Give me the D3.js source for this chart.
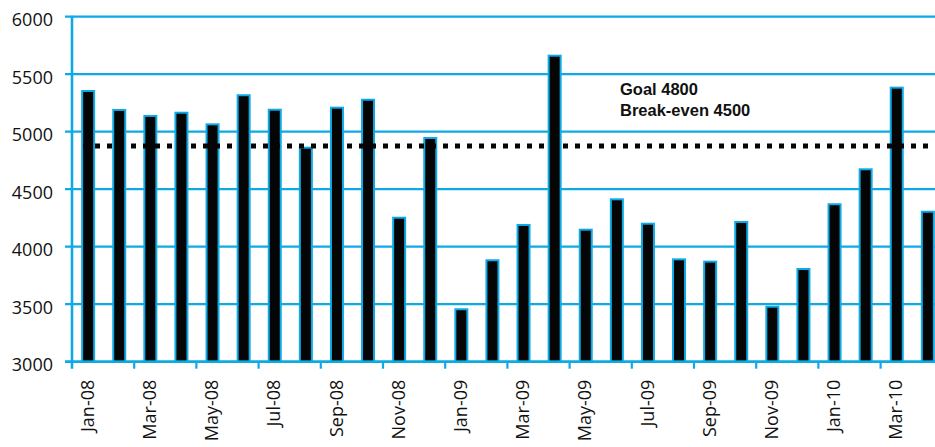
<!DOCTYPE html>
<html>
<head>
<meta charset="utf-8">
<script src="https://cdn.jsdelivr.net/npm/d3@7"></script>
<style>
  html, body { margin: 0; padding: 0; background: #fff; }
  svg { display: block; }
</style>
</head>
<body>
<svg id="chart" width="935" height="447"></svg>
<script>
// Monthly totals, Jan-08 .. Apr-10
const months = [
  "Jan-08","Feb-08","Mar-08","Apr-08","May-08","Jun-08","Jul-08","Aug-08",
  "Sep-08","Oct-08","Nov-08","Dec-08","Jan-09","Feb-09","Mar-09","Apr-09",
  "May-09","Jun-09","Jul-09","Aug-09","Sep-09","Oct-09","Nov-09","Dec-09",
  "Jan-10","Feb-10","Mar-10","Apr-10"
];
const values = [
  5354, 5189, 5137, 5165, 5064, 5317, 5191, 4861,
  5209, 5278, 4252, 4945, 3456, 3882, 4189, 5661,
  4148, 4412, 4200, 3890, 3870, 4215, 3478, 3806,
  4369, 4673, 5383, 4304
];
const yTicks = [3000, 3500, 4000, 4500, 5000, 5500, 6000];
const targetLine = 4875;
const notes = ["Goal 4800", "Break-even 4500"];

const W = 935, H = 447;
const cyan = "#0eaae6";
const plotLeft = 72, plotTop = 16.7, plotBottom = 361.7;
const step = 31.1;

const svg = d3.select("#chart");

const x = d3.scaleBand()
  .domain(months)
  .range([plotLeft, plotLeft + months.length * step])
  .paddingInner(0.614)
  .paddingOuter(0.307);

const y = d3.scaleLinear()
  .domain([3000, 6000])
  .range([plotBottom, plotTop]);

// horizontal gridlines (including the left tick stubs)
svg.append("g")
  .selectAll("line")
  .data(yTicks)
  .join("line")
  .attr("x1", plotLeft - 7)
  .attr("x2", W)
  .attr("y1", d => y(d))
  .attr("y2", d => y(d))
  .attr("stroke", cyan)
  .attr("stroke-width", 2.2);

// y axis labels
const yAxis = svg.append("g")
  .attr("transform", `translate(${plotLeft},0)`)
  .call(d3.axisLeft(y).tickValues(yTicks).tickFormat(d3.format("d")).tickSize(7).tickPadding(12));
yAxis.select(".domain").remove();
yAxis.selectAll(".tick line").remove();
yAxis.selectAll("text")
  .attr("dy", "0.5em")
  .attr("fill", "#111")
  .style("font-family", "'Open Sans', 'Noto Sans', sans-serif")
  .style("font-size", "18px");

// vertical axis line, extending down to form the first tick
svg.append("line")
  .attr("x1", plotLeft).attr("x2", plotLeft)
  .attr("y1", y(6000) - 1).attr("y2", plotBottom + 7)
  .attr("stroke", cyan).attr("stroke-width", 2.6);

// tick marks on the category boundaries, every second month
const boundaryTicks = months.filter((d, i) => i % 2 === 0);
svg.append("g")
  .selectAll("line")
  .data(boundaryTicks.slice(1))
  .join("line")
  .attr("x1", d => x(d) - (x.step() - x.bandwidth()) / 2)
  .attr("x2", d => x(d) - (x.step() - x.bandwidth()) / 2)
  .attr("y1", plotBottom)
  .attr("y2", plotBottom + 7)
  .attr("stroke", cyan)
  .attr("stroke-width", 2.2);

// bars
svg.append("g")
  .selectAll("rect")
  .data(values)
  .join("rect")
  .attr("x", (d, i) => x(months[i]) + 0.6)
  .attr("width", x.bandwidth())
  .attr("y", d => y(d))
  .attr("height", d => plotBottom - y(d))
  .attr("fill", "#050505")
  .attr("stroke", cyan)
  .attr("stroke-width", 2);

// bottom axis line
svg.append("line")
  .attr("x1", plotLeft - 7).attr("x2", W)
  .attr("y1", plotBottom).attr("y2", plotBottom)
  .attr("stroke", cyan).attr("stroke-width", 2.6);

// month labels under every second bar
const xAxis = svg.append("g")
  .attr("transform", `translate(0,${plotBottom})`)
  .call(d3.axisBottom(x).tickValues(boundaryTicks).tickSize(0));
xAxis.select(".domain").remove();
xAxis.selectAll("text")
  .attr("transform", "rotate(-90)")
  .attr("x", -18)
  .attr("y", 0)
  .attr("dy", "0.35em")
  .attr("text-anchor", "end")
  .attr("fill", "#111")
  .style("font-family", "'Open Sans', 'Noto Sans', sans-serif")
  .style("font-size", "18px");

// dotted target line
svg.append("line")
  .attr("x1", 83).attr("x2", W)
  .attr("y1", y(targetLine)).attr("y2", y(targetLine))
  .attr("stroke", "#050505")
  .attr("stroke-width", 5)
  .attr("stroke-dasharray", "5,7");

// annotation
svg.append("g")
  .selectAll("text")
  .data(notes)
  .join("text")
  .attr("x", 620)
  .attr("y", (d, i) => 95 + i * 21)
  .attr("fill", "#111")
  .style("font-family", "'Liberation Sans', Arial, sans-serif")
  .style("font-weight", "bold")
  .style("font-size", "16.5px")
  .text(d => d);
</script>
</body>
</html>
